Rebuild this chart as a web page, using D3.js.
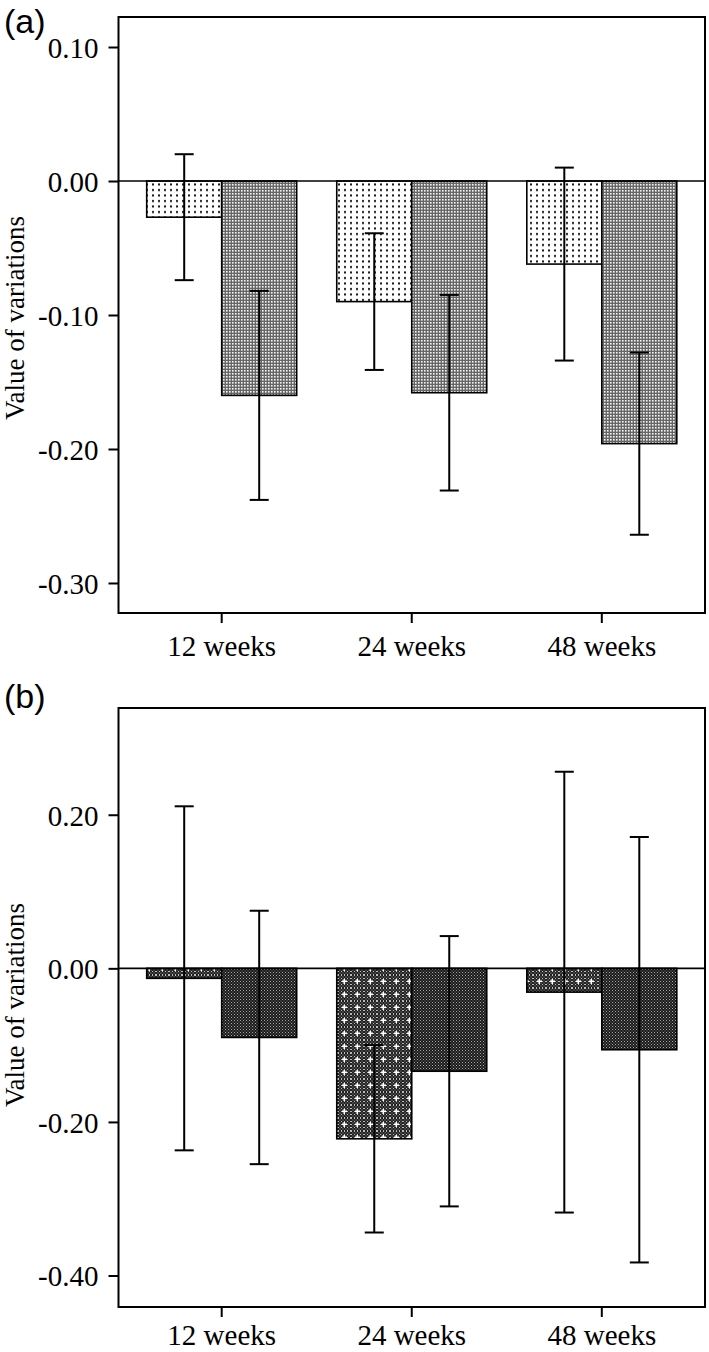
<!DOCTYPE html>
<html><head><meta charset="utf-8">
<script src="https://cdn.jsdelivr.net/npm/d3@7"></script>
<style>
html,body{margin:0;padding:0;background:#fff;}
svg{display:block;}
</style></head>
<body>
<svg id="chart" width="709" height="1352"></svg>
<script>
// ---- data ----
const categories = ["12 weeks", "24 weeks", "48 weeks"];
const seriesNames = ["s1", "s2"];
// panel (a)
const aMeans = [[-0.027, -0.090, -0.062], [-0.160, -0.158, -0.196]];
const aErr   = [[0.047, 0.051, 0.072], [0.078, 0.073, 0.068]];
const aTicks = [0.10, 0.00, -0.10, -0.20, -0.30];
const aDomain = [-0.3224, 0.1224];
// panel (b)
const bMeans = [[-0.013, -0.222, -0.031], [-0.090, -0.134, -0.106]];
const bErr   = [[0.224, 0.122, 0.287], [0.165, 0.176, 0.277]];
const bTicks = [0.20, 0.00, -0.20, -0.40];
const bDomain = [-0.441, 0.339];
const yTitle = "Value of variations";
const panelLabels = ["(a)", "(b)"];

const svg = d3.select("#chart");
const defs = svg.append("defs");

function pat(id, w, h, draw) {
  const p = defs.append("pattern").attr("id", id).attr("patternUnits", "userSpaceOnUse")
    .attr("width", w).attr("height", h);
  draw(p);
}
pat("pA1", 6, 5.5, p => {
  p.append("rect").attr("width", 6).attr("height", 5.5).attr("fill", "#fff");
  p.append("rect").attr("x", 2).attr("y", 2).attr("width", 2).attr("height", 2).attr("fill", "#111");
});
pat("pA2", 3, 3, p => {
  p.append("rect").attr("width", 3).attr("height", 3).attr("fill", "#666");
  p.append("rect").attr("x", 1).attr("y", 1).attr("width", 1.6).attr("height", 1.6).attr("fill", "#f4f4f4");
});
pat("pB2base", 3, 3, p => {
  p.append("rect").attr("width", 3).attr("height", 3).attr("fill", "#222");
  p.append("rect").attr("x", 0).attr("y", 0).attr("width", 1).attr("height", 1).attr("fill", "#bbb");
  p.append("rect").attr("x", 1.5).attr("y", 1.5).attr("width", 1).attr("height", 1).attr("fill", "#999");
});
pat("pB1", 13, 13, p => {
  p.append("rect").attr("width", 13).attr("height", 13).attr("fill", "url(#pB2base)");
  p.append("rect").attr("x", 5.5).attr("y", 4).attr("width", 1.5).attr("height", 5).attr("fill", "#fff");
  p.append("rect").attr("x", 4).attr("y", 5.5).attr("width", 5).attr("height", 1.5).attr("fill", "#fff");
});
pat("pB2", 3, 3, p => {
  p.append("rect").attr("width", 3).attr("height", 3).attr("fill", "#1a1a1a");
  p.append("rect").attr("x", 0).attr("y", 0).attr("width", 1).attr("height", 1).attr("fill", "#aaa");
  p.append("rect").attr("x", 1.5).attr("y", 1.5).attr("width", 1).attr("height", 1).attr("fill", "#888");
});

const left = 118.5, right = 705;
const x = d3.scaleBand().domain(categories).range([left, right]).paddingInner(0).paddingOuter(0.043);
const xs = d3.scaleBand().domain(seriesNames).range([-75, 75]);
const serif = "'Liberation Serif', 'Times New Roman', Times, serif";

function panel(cfg) {
  const g = svg.append("g");
  const y = d3.scaleLinear().domain(cfg.domain).range([cfg.bottom, cfg.top]);
  seriesNames.forEach((s, si) => {
    categories.forEach((c, ci) => {
      const v = cfg.means[si][ci];
      const x0 = x(c) + x.bandwidth() / 2 + xs(s);
      g.append("rect")
        .attr("x", x0).attr("width", xs.bandwidth())
        .attr("y", y(Math.max(0, v))).attr("height", Math.abs(y(v) - y(0)))
        .attr("fill", `url(#${cfg.patterns[si]})`)
        .attr("stroke", "#000").attr("stroke-width", 1.6);
    });
  });
  g.append("line").attr("x1", left).attr("x2", right).attr("y1", y(0)).attr("y2", y(0))
    .attr("stroke", "#000").attr("stroke-width", 1.6);
  seriesNames.forEach((s, si) => {
    categories.forEach((c, ci) => {
      const v = cfg.means[si][ci], e = cfg.err[si][ci];
      const cx = x(c) + x.bandwidth() / 2 + xs(s) + xs.bandwidth() / 2;
      g.append("line").attr("x1", cx).attr("x2", cx).attr("y1", y(v + e)).attr("y2", y(v - e))
        .attr("stroke", "#000").attr("stroke-width", 2);
      [v + e, v - e].forEach(t => {
        g.append("line").attr("x1", cx - 9.5).attr("x2", cx + 9.5).attr("y1", y(t)).attr("y2", y(t))
          .attr("stroke", "#000").attr("stroke-width", 2);
      });
    });
  });
  g.append("rect").attr("x", left).attr("y", cfg.top).attr("width", right - left).attr("height", cfg.bottom - cfg.top)
    .attr("fill", "none").attr("stroke", "#000").attr("stroke-width", 2);
  const ya = d3.axisLeft(y).tickValues(cfg.ticks).tickSize(10).tickPadding(10);
  const yg = g.append("g").attr("transform", `translate(${left},0)`).call(ya);
  yg.select(".domain").remove();
  yg.selectAll(".tick line").attr("stroke-width", 2);
  yg.selectAll(".tick text").attr("font-family", serif)
    .attr("font-size", 29).attr("fill", "#000").attr("dy", "0.36em")
    .text(d => d3.format(".2f")(d).replace("−", "-"));
  const xa = d3.axisBottom(x).tickSize(10).tickPadding(cfg.xPad);
  const xg = g.append("g").attr("transform", `translate(0,${cfg.bottom})`).call(xa);
  xg.select(".domain").remove();
  xg.selectAll(".tick line").attr("stroke-width", 2);
  xg.selectAll(".tick text").attr("font-family", serif)
    .attr("font-size", 29).attr("fill", "#000");
  g.append("text").attr("transform", `translate(${cfg.titleX},${cfg.titleY}) rotate(-90)`)
    .attr("text-anchor", "middle").attr("font-family", serif)
    .attr("font-size", 27).text(yTitle);
  g.append("text").attr("x", 4).attr("y", cfg.labelY).attr("font-family", "'Liberation Sans', Arial, sans-serif")
    .attr("font-size", 34).text(cfg.label);
}

panel({ top: 17, bottom: 613, domain: aDomain, ticks: aTicks, means: aMeans, err: aErr, xPad: 12,
  patterns: ["pA1", "pA2"], titleX: 24, titleY: 318, label: panelLabels[0], labelY: 33 });
panel({ top: 708, bottom: 1307, domain: bDomain, ticks: bTicks, means: bMeans, err: bErr, xPad: 7,
  patterns: ["pB1", "pB2"], titleX: 24, titleY: 1005, label: panelLabels[1], labelY: 708 });
</script>
</body></html>
